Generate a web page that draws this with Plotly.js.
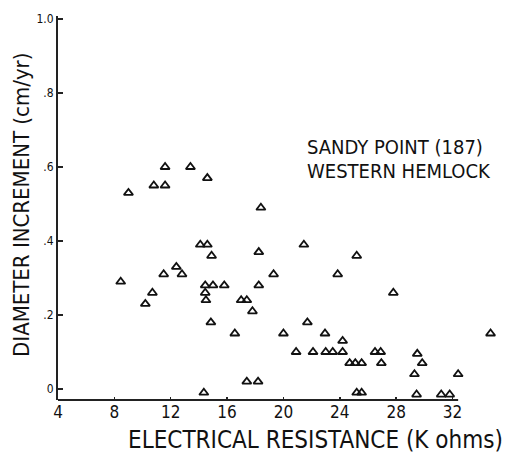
<!DOCTYPE html>
<html>
<head>
<meta charset="utf-8">
<script src="https://cdn.plot.ly/plotly-3.0.1.min.js"></script>
<style>html,body{margin:0;padding:0;background:#fff;}#chart{width:506px;height:456px;}</style>
</head>
<body>
<div id="chart"></div>
<script>
// Electrical resistance (K ohms)
const resistance = [
  9.0, 10.8, 11.6, 11.6, 13.4, 14.6, 14.1, 14.6, 14.9, 12.4,
  11.5, 12.8, 8.45, 14.45, 15.0, 15.8, 14.45, 10.7, 10.2, 14.5,
  14.85, 16.55, 17.0, 17.4, 17.8, 18.25, 18.25, 14.35, 17.4, 18.2,
  18.4, 21.45, 25.2, 19.3, 23.85, 27.8, 21.7, 20.0, 22.95, 34.7,
  24.2, 20.9, 22.1, 23.0, 23.5, 24.2, 26.5, 26.9, 29.5, 24.7,
  25.1, 25.55, 26.95, 29.85, 29.3, 32.4, 25.2, 25.55, 29.45, 31.2,
  31.8
];
// Diameter increment (cm/yr)
const increment = [
  0.53, 0.55, 0.55, 0.60, 0.60, 0.57, 0.39, 0.39, 0.36, 0.33,
  0.31, 0.31, 0.29, 0.28, 0.28, 0.28, 0.26, 0.26, 0.23, 0.24,
  0.18, 0.15, 0.24, 0.24, 0.21, 0.37, 0.28, -0.01, 0.02, 0.02,
  0.49, 0.39, 0.36, 0.31, 0.31, 0.26, 0.18, 0.15, 0.15, 0.15,
  0.13, 0.10, 0.10, 0.10, 0.10, 0.10, 0.10, 0.10, 0.095, 0.07,
  0.07, 0.07, 0.07, 0.07, 0.04, 0.04, -0.01, -0.01, -0.015, -0.015,
  -0.015
];
const xTickVals = [4, 8, 12, 16, 20, 24, 28, 32];
const xTickText = ["4", "8", "12", "16", "20", "24", "28", "32"];
const yTickVals = [0, 0.2, 0.4, 0.6, 0.8, 1.0];
const yTickText = ["0", ".2", ".4", ".6", ".8", "1.0"];
const titleLines = ["SANDY POINT (187)", "WESTERN HEMLOCK"];
const xTitle = "ELECTRICAL RESISTANCE (K ohms)";
const yTitle = "DIAMETER INCREMENT (cm/yr)";

const FONT = "'DejaVu Sans Condensed', 'Liberation Sans Narrow', 'Liberation Sans', sans-serif";
const INK = '#111';

const trace = {
  type: 'scatter',
  mode: 'markers',
  x: resistance,
  y: increment,
  cliponaxis: false,
  marker: {symbol: 'triangle-up-open', size: 8, color: INK, line: {width: 1.8, color: INK}},
  hoverinfo: 'skip'
};

const layout = {
  width: 506, height: 456,
  paper_bgcolor: '#fff', plot_bgcolor: '#fff',
  margin: {l: 58, r: 7, t: 16, b: 56},
  showlegend: false,
  font: {family: FONT, color: INK},
  xaxis: {
    range: [4, 35.3], showgrid: false, zeroline: false,
    showline: false,
    ticks: 'inside', ticklen: 3, tickwidth: 1.5, tickcolor: '#222',
    tickvals: xTickVals, ticktext: xTickText,
    tickfont: {size: 17, family: FONT, color: INK}
  },
  yaxis: {
    range: [-0.0297, 1.008], showgrid: false, zeroline: false,
    showline: true, linecolor: '#222', linewidth: 2,
    ticks: 'inside', ticklen: 5, tickwidth: 1.5, tickcolor: '#222',
    tickvals: yTickVals, ticktext: yTickText,
    tickfont: {size: 12, family: FONT, color: INK}
  },
  shapes: [{
    type: 'line', xref: 'x', yref: 'paper',
    x0: xTickVals[0], x1: 32.4, y0: 0, y1: 0,
    line: {color: '#222', width: 2}
  }],
  annotations: [
    {xref: 'paper', yref: 'paper', x: 0.56, y: 0.658, xanchor: 'left', yanchor: 'middle',
     showarrow: false, text: titleLines[0], font: {size: 20, family: FONT, color: INK}},
    {xref: 'paper', yref: 'paper', x: 0.56, y: 0.596, xanchor: 'left', yanchor: 'middle',
     showarrow: false, text: titleLines[1], font: {size: 20, family: FONT, color: INK}},
    {xref: 'paper', yref: 'paper', x: 0.585, y: -0.104, xanchor: 'center', yanchor: 'middle',
     showarrow: false, text: xTitle, font: {size: 24, family: FONT, color: INK}},
    {xref: 'paper', yref: 'paper', x: -0.0816, y: 0.508, xanchor: 'center', yanchor: 'middle',
     textangle: -90, showarrow: false, text: yTitle, font: {size: 22, family: FONT, color: INK}}
  ]
};

Plotly.newPlot('chart', [trace], layout, {displayModeBar: false, staticPlot: true});
</script>
</body>
</html>
